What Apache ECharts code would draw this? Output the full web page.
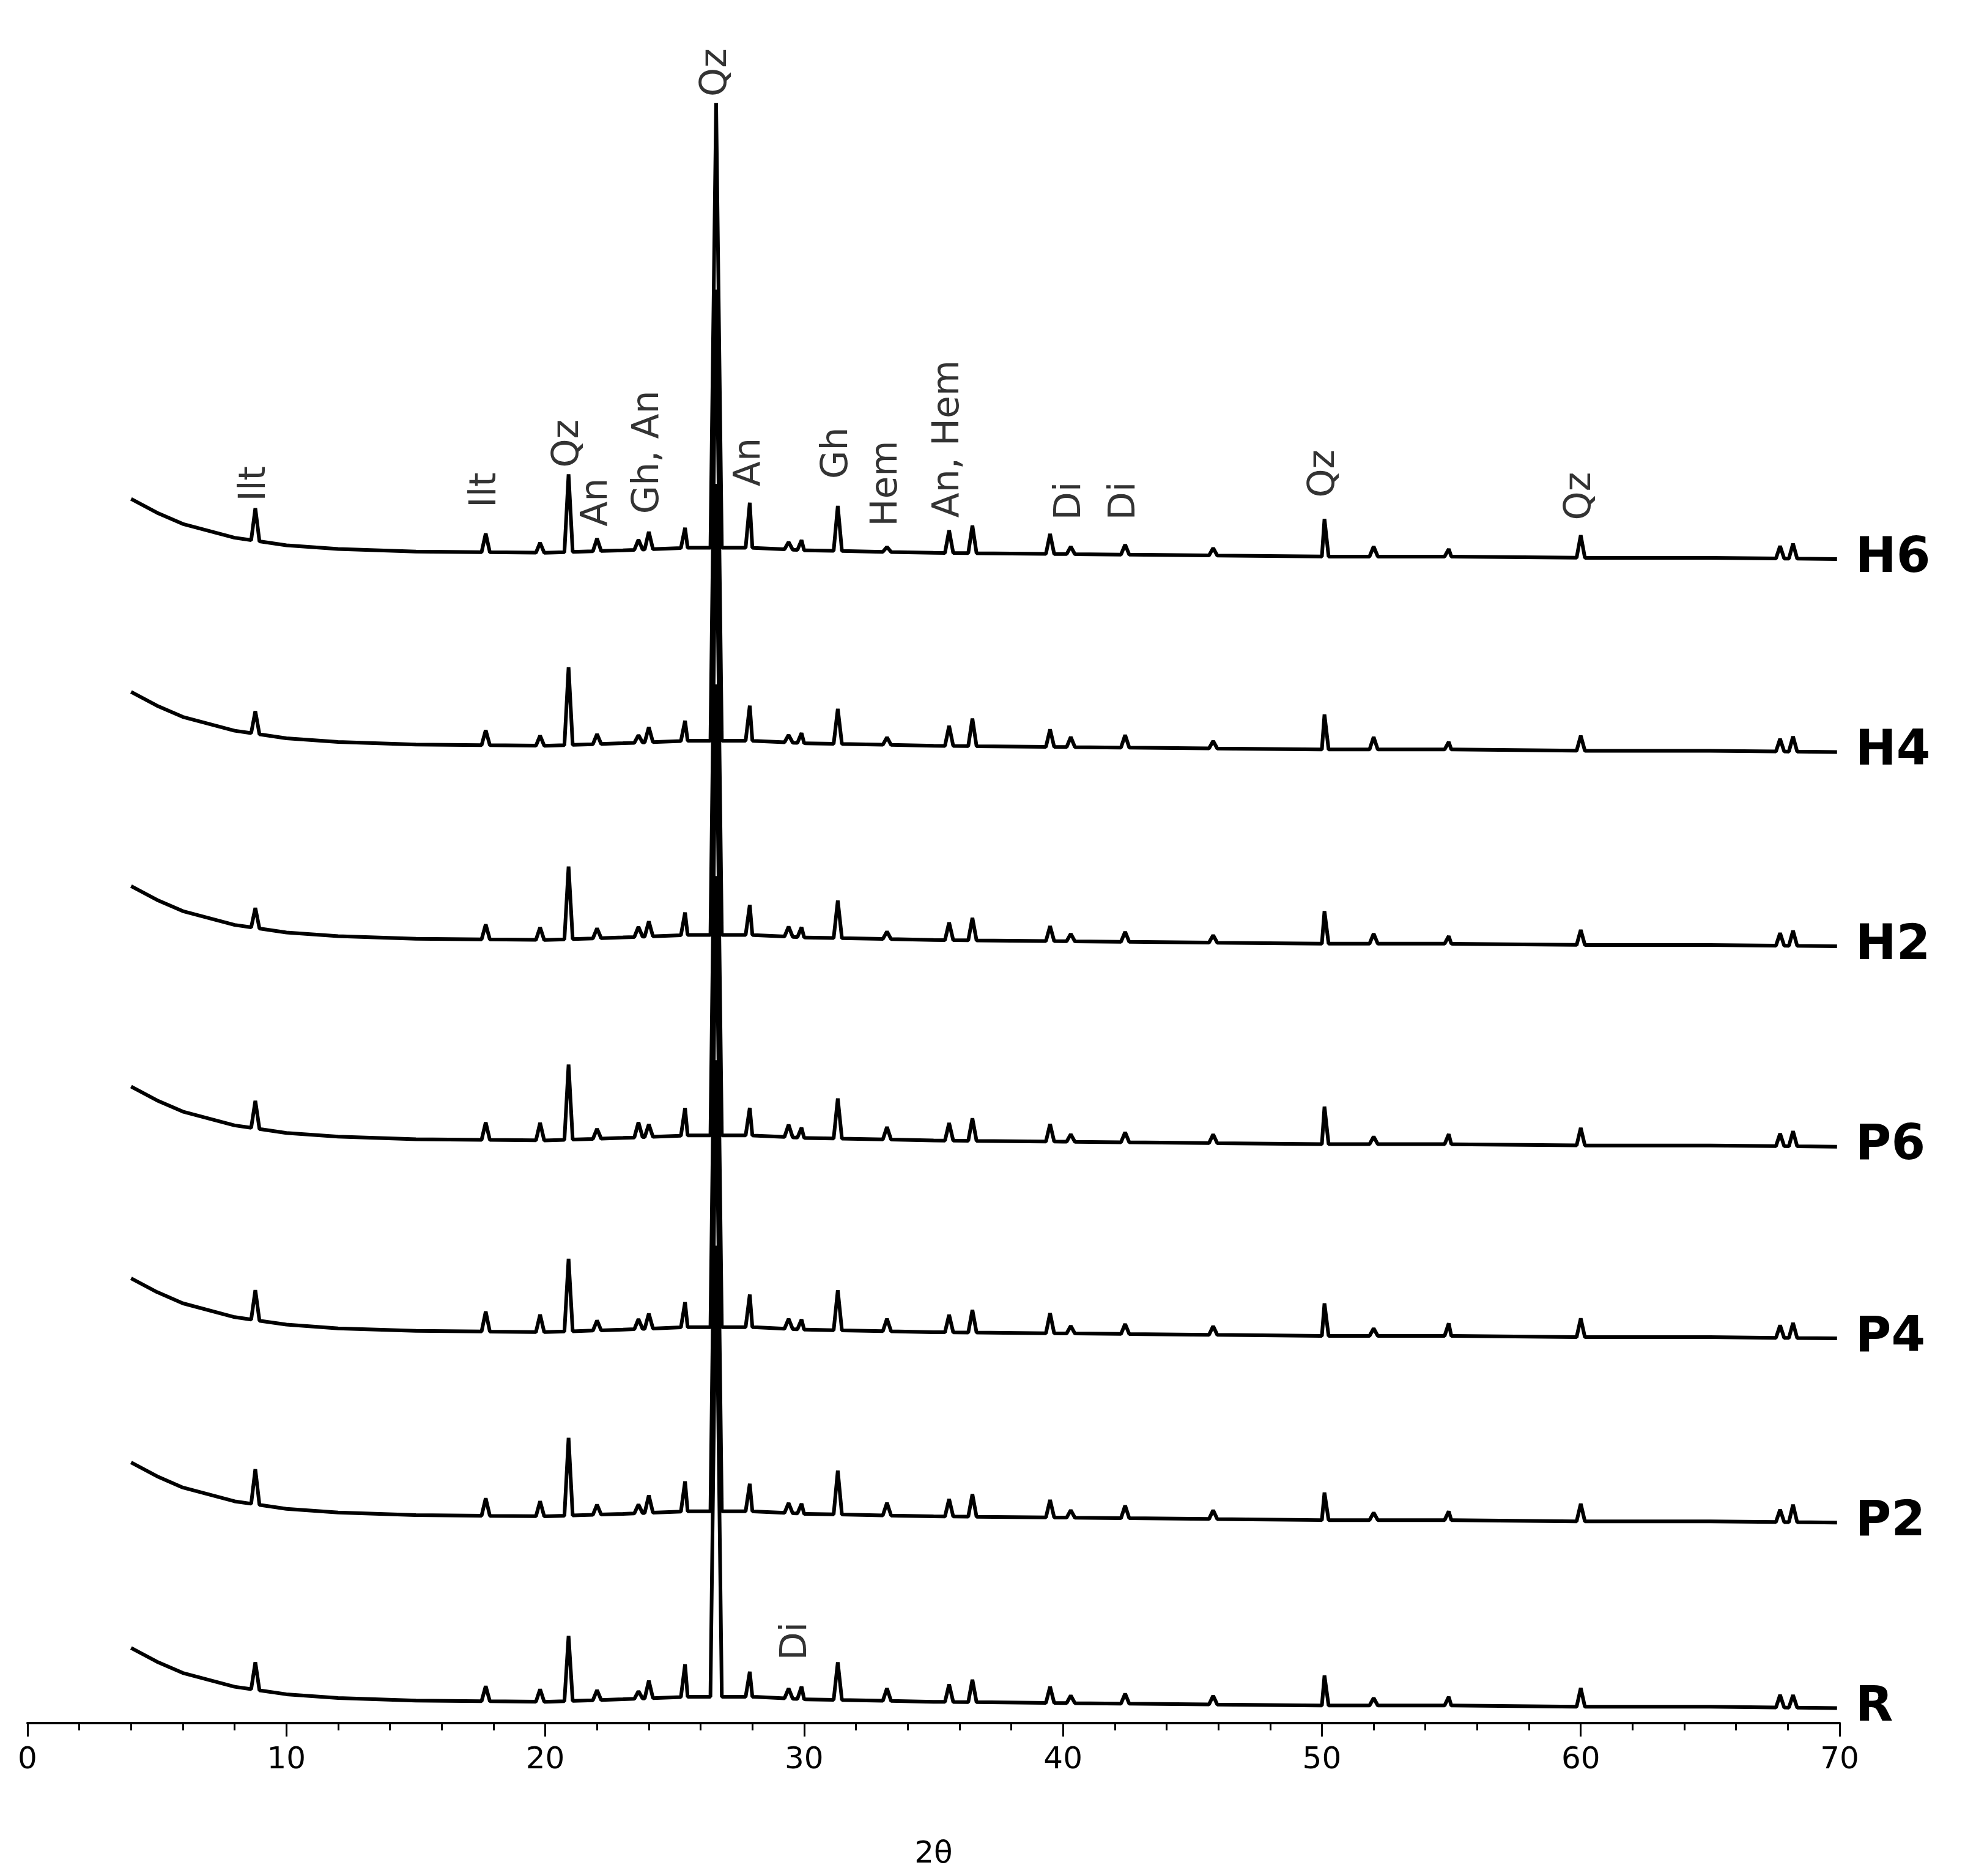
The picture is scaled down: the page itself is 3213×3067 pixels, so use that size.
<!DOCTYPE html>
<html><head><meta charset="utf-8">
<script src="https://cdn.jsdelivr.net/npm/echarts@6/dist/echarts.min.js"></script>
<style>html,body{margin:0;padding:0;background:#fff}#c{width:3213px;height:3067px}</style>
</head><body><div id="c"></div>
<script>
// sample names and baseline levels (intensity, arbitrary offset units)
const sampleNames = ['R','P2','P4','P6','H2','H4','H6'];
const sampleOffsets = [15,163,310,463,623,778,932];
// background shape (added to offset) at 2θ positions
const bgX = [4,5,6,8,10,12,15,20,23,25.5,28,30,35,40,45,50,55,60,65,69.9];
const bgY = [45,34,25,14,8,5,3,2,4,6,6,4,2,1,0,-1,-1,-2,-2,-3];
// peak positions (2θ) and peak heights per sample
const peakPos = [8.8,17.7,19.8,20.9,22.0,23.6,24.0,25.4,26.6,27.9,29.4,29.9,31.3,33.2,35.6,36.5,39.5,40.3,42.4,45.8,50.1,52.0,54.9,60.0,67.7,68.2];
const heights = {
  R:  [22,12,10,52,8,6,14,26,360,20,8,10,30,10,14,18,13,6,8,7,24,6,7,15,10,10],
  P2: [28,14,12,62,8,7,14,24,360,22,8,8,35,10,14,18,14,6,10,7,22,6,7,14,10,14],
  P4: [24,16,14,58,8,8,12,20,360,26,8,8,32,10,14,18,16,6,8,7,26,6,10,15,10,12],
  P6: [22,14,14,60,8,12,10,22,360,22,10,8,32,10,14,18,14,6,8,7,30,6,8,14,10,12],
  H2: [16,12,10,58,8,8,12,18,360,24,8,8,30,6,14,18,12,6,8,6,26,8,6,12,10,12],
  H4: [18,12,8,62,8,6,12,16,360,28,6,8,28,6,16,22,14,8,10,6,28,10,6,12,10,12],
  H6: [26,15,8,62,10,8,14,16,355,36,6,8,36,4,18,22,16,6,8,6,30,8,6,18,10,12]
};
// phase annotations
const annText = ['Ilt','Ilt','Qz','An','Gh, An','Qz','An','Gh','Hem','An, Hem','Di','Di','Qz','Qz','Di'];
const annX =    [8.8,17.7,20.9,22.0,24.0,26.6,27.9,31.3,33.2,35.6,40.3,42.4,50.1,60.0,29.7];
const annY =    [975,970,1002,955,965,1298,987,993,955,962,960,960,978,960,50];

function bgAt(x){
  for(let i=0;i<bgX.length-1;i++){ if(x<=bgX[i+1]){const t=(x-bgX[i])/(bgX[i+1]-bgX[i]);return bgY[i]+t*(bgY[i+1]-bgY[i]);} }
  return bgY[bgY.length-1];
}
function build(name,off){
  const h=heights[name];
  const keys=new Set(bgX);
  peakPos.forEach(p=>{const w=p===26.6?0.22:0.16;keys.add(+(p-w).toFixed(2));keys.add(+(p+w).toFixed(2));});
  const xs=[...keys].concat(peakPos).sort((a,b)=>a-b);
  return xs.map(x=>{
    const k=peakPos.indexOf(x);
    return [x, off+bgAt(x)+(k>=0?h[k]:0)];
  });
}
const series = sampleNames.map((n,i)=>({
  type:'line', name:n, data:build(n,sampleOffsets[i]), showSymbol:false, silent:true,
  lineStyle:{color:'#000',width:6}, animation:false,
  endLabel:{show:true,formatter:n,color:'#000',fontSize:80,fontWeight:'bold',fontFamily:'DejaVu Sans',distance:30}
}));
series.push({
  type:'scatter', symbolSize:0, animation:false, silent:true,
  data: annX.map((x,i)=>({value:[x,annY[i]],name:annText[i]})),
  label:{show:true,position:'inside',rotate:90,align:'left',verticalAlign:'middle',
    formatter:p=>p.name,fontSize:60,color:'#000',fontFamily:'DejaVu Sans'}
});
const chart = echarts.init(document.getElementById('c'));
chart.setOption({
  backgroundColor:'#fff', animation:false,
  grid:{left:45,right:205,top:154,bottom:250,containLabel:false},
  xAxis:{type:'value',min:0,max:70,interval:10,name:'2θ',nameLocation:'middle',nameGap:190,
    nameTextStyle:{fontSize:50,color:'#000',fontFamily:'DejaVu Sans'},
    axisLine:{lineStyle:{color:'#000',width:4}},
    axisTick:{show:true,length:22,lineStyle:{color:'#000',width:3}},
    minorTick:{show:true,splitNumber:5,length:12,lineStyle:{color:'#000',width:3}},
    axisLabel:{fontSize:50,color:'#000',margin:36,fontFamily:'DejaVu Sans'},
    splitLine:{show:false}},
  yAxis:{type:'value',min:0,max:1300,show:false,splitLine:{show:false}},
  series
});
</script></body></html>
